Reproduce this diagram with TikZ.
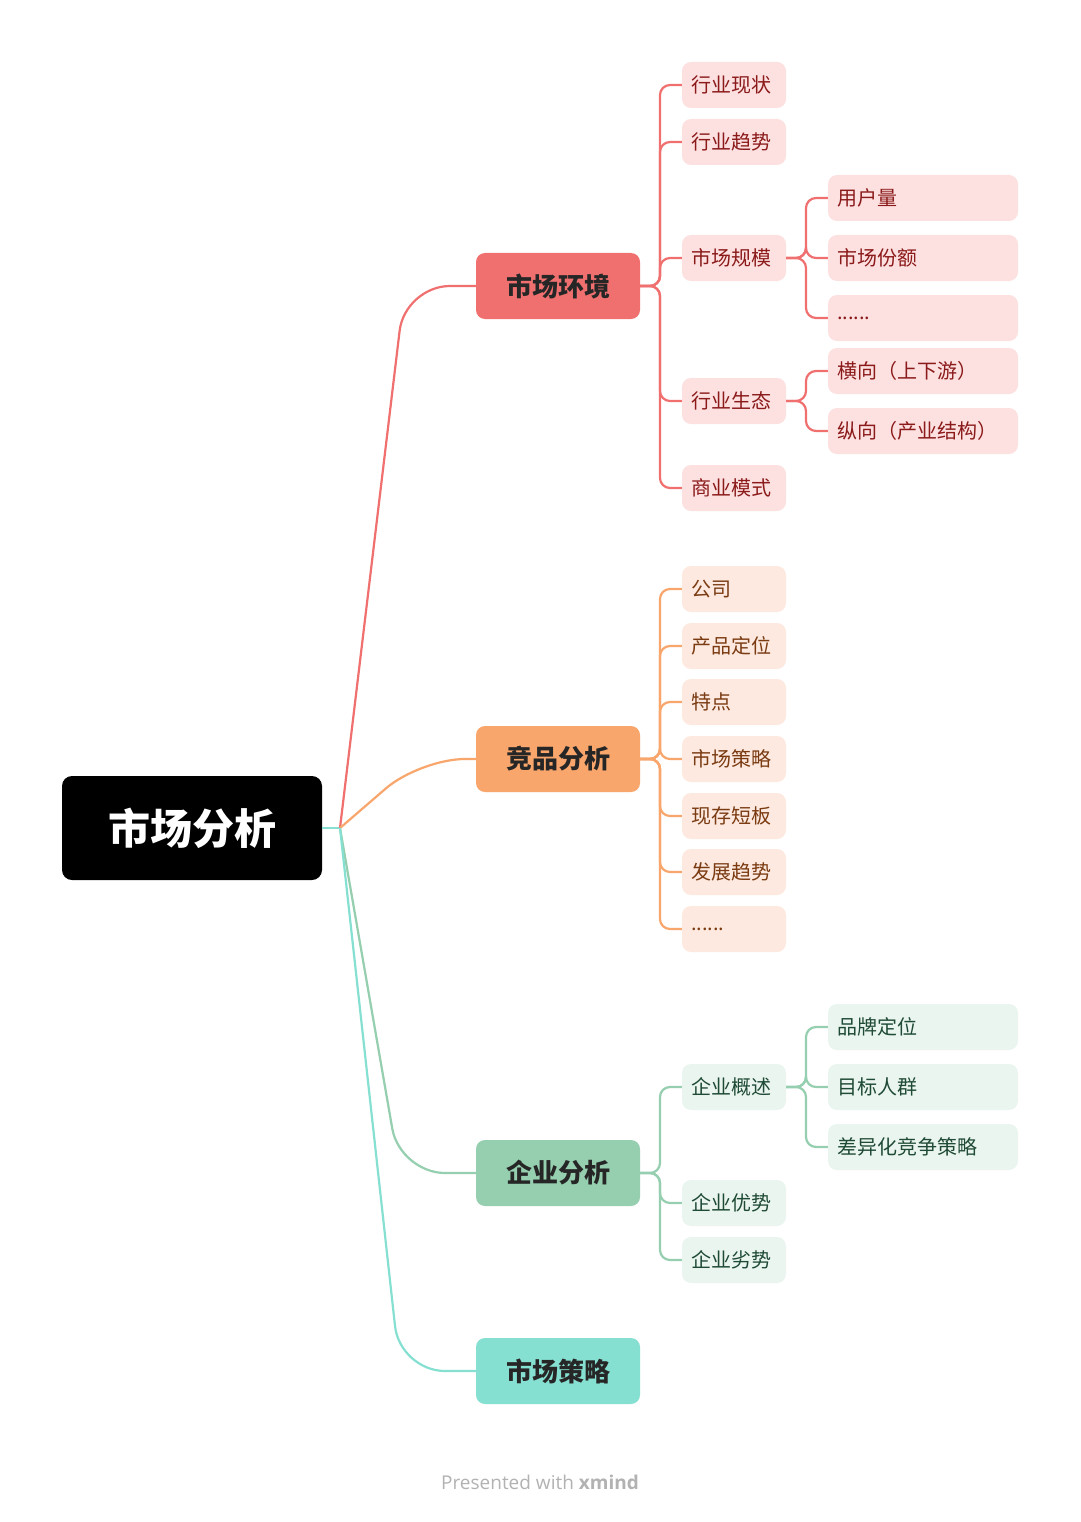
\documentclass[tikz,border=0pt]{standalone}
\usepackage{fontspec}
\setmainfont{Noto Sans CJK SC}
\newfontfamily\lat{Open Sans}
\definecolor{rl}{HTML}{F07070}\definecolor{rf}{HTML}{FDE0E0}\definecolor{rt}{HTML}{8B1A1A}
\definecolor{ol}{HTML}{F9A66C}\definecolor{of}{HTML}{FDE9DF}\definecolor{ot}{HTML}{7A3B12}
\definecolor{gl}{HTML}{95CFB0}\definecolor{gf}{HTML}{EAF5EF}\definecolor{gt}{HTML}{1F4A35}
\definecolor{tl}{HTML}{86E0D2}
\newcommand\sixdots{.\kern0pt.\kern0pt.\kern0pt.\kern0pt.\kern0pt.}
\tikzset{
 mainbox/.style={rounded corners=9pt,minimum width=164pt,minimum height=66pt,inner sep=0pt,font=\fontsize{26}{30}\selectfont\bfseries,text=black!85},
 leafbox/.style={rounded corners=9pt,minimum height=46pt,text width=86pt,inner xsep=9pt,align=left,font=\fontsize{20}{24}\selectfont},
 subbox/.style={leafbox,text width=172pt},
 conn/.style={line width=2.2pt,rounded corners=10pt},
 bigconn/.style={line width=2.2pt,rounded corners=45pt}
}
\begin{document}
\begin{tikzpicture}[x=1pt,y=-1pt]
\useasboundingbox (0,0) rectangle (1080,1522);
\fill[white] (0,0) rectangle (1080,1522);
% root
\node[fill=black,rounded corners=10pt,minimum width=260pt,minimum height=104pt,text=white,font=\fontsize{42}{48}\selectfont\bfseries] (root) at (192,828) {市场分析};
\coordinate (hub) at (340,828);
\draw[tl,line width=2.2pt] (root.east) -- (hub);
% main branches
\node[mainbox,fill=rl] (m1) at (558,286) {市场环境};
\node[mainbox,fill=ol] (m2) at (558,759) {竞品分析};
\node[mainbox,fill=gl] (m3) at (558,1173) {企业分析};
\node[mainbox,fill=tl] (m4) at (558,1371) {市场策略};
\draw[bigconn,rl] (hub) -- (405,286) -- (m1.west);
\draw[bigconn,ol] (hub) -- (420,759) -- (m2.west);
\draw[bigconn,gl] (hub) -- (400,1173) -- (m3.west);
\draw[bigconn,tl] (hub) -- (400,1371) -- (m4.west);
% red leaves
\foreach \n/\y/\t in {a/85/行业现状,b/142/行业趋势,c/258/市场规模,d/401/行业生态,e/488/商业模式}{
 \node[leafbox,fill=rf,text=rt] (r\n) at (734,\y) {\t};
 \draw[conn,rl] (m1.east) -- (660,286) -- (660,\y) -- (r\n.west);
}
\foreach \n/\y/\t/\p in {a/198/用户量/c,b/258/市场份额/c,c/318/\sixdots/c,d/371/横向（上下游）/d,e/431/纵向（产业结构）/d}{
 \node[subbox,fill=rf,text=rt] (rs\n) at (923,\y) {\t};
 \draw[conn,rl] (r\p.east) -- (806,0|-r\p.east) -- (806,\y) -- (rs\n.west);
}
% orange leaves
\foreach \n/\y/\t in {a/589/公司,b/646/产品定位,c/702/特点,d/759/市场策略,e/816/现存短板,f/872/发展趋势,g/929/\sixdots}{
 \node[leafbox,fill=of,text=ot] (o\n) at (734,\y) {\t};
 \draw[conn,ol] (m2.east) -- (660,759) -- (660,\y) -- (o\n.west);
}
% green leaves
\foreach \n/\y/\t in {a/1087/企业概述,b/1203/企业优势,c/1260/企业劣势}{
 \node[leafbox,fill=gf,text=gt] (g\n) at (734,\y) {\t};
 \draw[conn,gl] (m3.east) -- (660,1173) -- (660,\y) -- (g\n.west);
}
\foreach \n/\y/\t in {a/1027/品牌定位,b/1087/目标人群,c/1147/差异化竞争策略}{
 \node[subbox,fill=gf,text=gt] (gs\n) at (923,\y) {\t};
 \draw[conn,gl] (ga.east) -- (806,1087) -- (806,\y) -- (gs\n.west);
}
\node[text=black!30,font=\lat\fontsize{19}{22}\selectfont] (foot) at (540,1482) {Presented with \textbf{xmind}};
\end{tikzpicture}
\end{document}
